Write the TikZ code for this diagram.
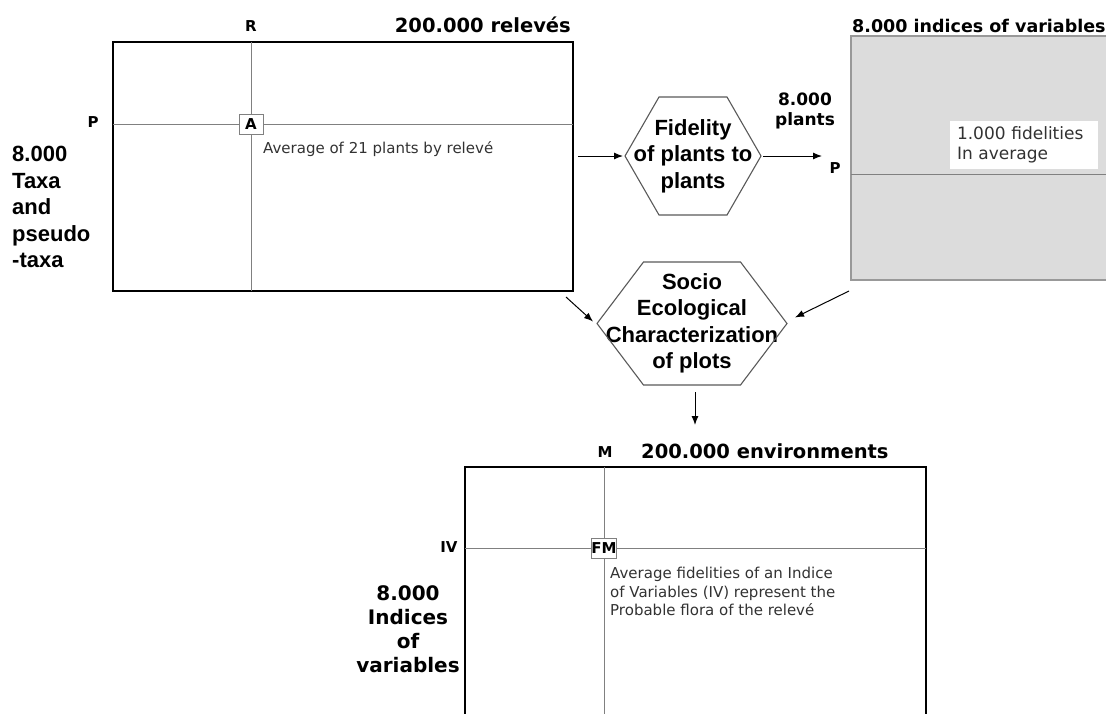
\documentclass[tikz,border=0pt]{standalone}
\usepackage{fontspec}
\setmainfont{DejaVu Sans}
\newfontfamily\arialfont{Liberation Sans}
\usetikzlibrary{arrows.meta,calc}
\definecolor{panelgray}{RGB}{220,220,220}
\definecolor{gridgray}{RGB}{128,128,128}
\definecolor{notegray}{RGB}{50,50,50}
\tikzset{
  frame/.style={draw=black,line width=1.8pt,inner sep=0pt,outer sep=0pt},
  gridline/.style={draw=gridgray,line width=1pt},
  cell/.style={draw=gridgray,fill=white,line width=1pt,inner sep=0pt,outer sep=0pt,
    minimum width=24pt,minimum height=20pt,font=\fontsize{15}{15}\selectfont\bfseries},
  axis/.style={inner sep=0pt,font=\fontsize{15}{15}\selectfont\bfseries},
  title/.style={inner sep=0pt,font=\fontsize{19.5}{19.5}\selectfont\bfseries},
  note/.style={inner sep=0pt,text=notegray,font=\fontsize{15}{18.5}\selectfont},
  hexa/.style={inner sep=0pt,outer sep=0pt,align=center,font=\arialfont\fontsize{22}{26.5}\selectfont\bfseries},
  hexline/.style={draw=black!65,line width=1.1pt},
  side/.style={inner sep=0pt,align=left,font=\arialfont\fontsize{22}{26.5}\selectfont\bfseries},
  arr/.style={-{Latex[length=9pt,width=7pt]},line width=1pt}
}

\begin{document}
\begin{tikzpicture}[x=1pt,y=-1pt]
\useasboundingbox (0,0) rectangle (1106,713);

% releves x taxa
\node[frame,minimum width=460pt,minimum height=249pt] (relev) at (343,166.5) {};
\node[cell] (A) at (251,124) {A};
\draw[gridline] (relev.west |- A) -- (A.west) (A.east) -- (relev.east |- A);
\draw[gridline] (relev.north -| A) -- (A.north) (A.south) -- (relev.south -| A);
\node[axis] (rlab) at (251,26) {R};
\node[axis] (plab) at (93,122) {P};
\node[title,anchor=base east] (reltitle) at (571,32) {200.000 relevés};
\node[note,anchor=base west] (avg) at (263,153) {Average of 21 plants by relevé};
\node[side,anchor=north west] (taxa) at (12,146) {8.000\\Taxa\\and\\pseudo\\-taxa};

% fidelity of plants to plants
\node[hexa,minimum width=136pt,minimum height=118pt] (fid) at (693,156) {Fidelity\\of plants to\\plants};
\draw[hexline] (fid.west) -- ([xshift=34pt]fid.north west) -- ([xshift=-34pt]fid.north east)
  -- (fid.east) -- ([xshift=-34pt]fid.south east) -- ([xshift=34pt]fid.south west) -- cycle;
\node[title,align=center,font=\fontsize{17}{20}\selectfont\bfseries] (plants) at (805,111) {8.000\\plants};
\node[axis] (p2) at (835,168) {P};

% indices of variables
\node[fill=panelgray,draw=gridgray!80,line width=1.3pt,inner sep=0pt,outer sep=0pt,
  minimum width=261pt,minimum height=244pt] (indbox) at (981.5,158) {};
\draw[gridline] ([yshift=-16pt]indbox.west) -- ([yshift=-16pt]indbox.east);
\node[fill=white,inner sep=0pt,minimum width=148pt,minimum height=48pt,text width=134pt,
  align=left,text=notegray,font=\fontsize{17}{20}\selectfont] (fidnote) at (1024,145) {1.000 fidelities\\In average};
\node[title,anchor=base west,font=\fontsize{17.5}{17.5}\selectfont\bfseries] (indtitle) at (852,32) {8.000 indices of variables};

% socio ecological characterization
\node[hexa,minimum width=190pt,minimum height=123pt] (socio) at (692,323.5) {Socio\\Ecological\\Characterization\\of plots};
\draw[hexline] (socio.west) -- ([xshift=46.5pt]socio.north west) -- ([xshift=-46.5pt]socio.north east)
  -- (socio.east) -- ([xshift=-46.5pt]socio.south east) -- ([xshift=46.5pt]socio.south west) -- cycle;

% arrows
\draw[arr] ($(relev.east |- fid.west)+(5,0)$) -- ($(fid.west)+(-2,0)$);
\draw[arr] ($(fid.east)+(2,0)$) -- ($(indbox.west |- fid.east)+(-29,0)$);
\draw[arr] ($(relev.south east)+(-7,6)$) -- ($(socio.west)+(-4,-2)$);
\draw[arr] ($(indbox.south west)+(-2,11)$) -- ($(socio.east)+(8,-6)$);
\draw[arr] ($(socio.south)+(3,7)$) -- ($(socio.south)+(3,40)$);

% environments x indices
\node[frame,minimum width=461pt,minimum height=260pt] (envbox) at (695.5,597) {};
\node[cell] (FM) at (604,548) {FM};
\draw[gridline] (envbox.west |- FM) -- (FM.west) (FM.east) -- (envbox.east |- FM);
\draw[gridline] (envbox.north -| FM) -- (FM.north) (FM.south) -- (envbox.south -| FM);
\node[axis] (mlab) at (605,452) {M};
\node[axis] (ivlab) at (449,547) {IV};
\node[title,anchor=base west] (envtitle) at (641,458) {200.000 environments};
\node[note,align=left,anchor=north west] (fmnote) at (610,567) {Average fidelities of an Indice\\of Variables (IV) represent the\\Probable flora of the relevé};
\node[title,align=center,font=\fontsize{20}{24}\selectfont\bfseries] (ivside) at (408,629) {8.000\\Indices\\of\\variables};
\end{tikzpicture}
\end{document}
